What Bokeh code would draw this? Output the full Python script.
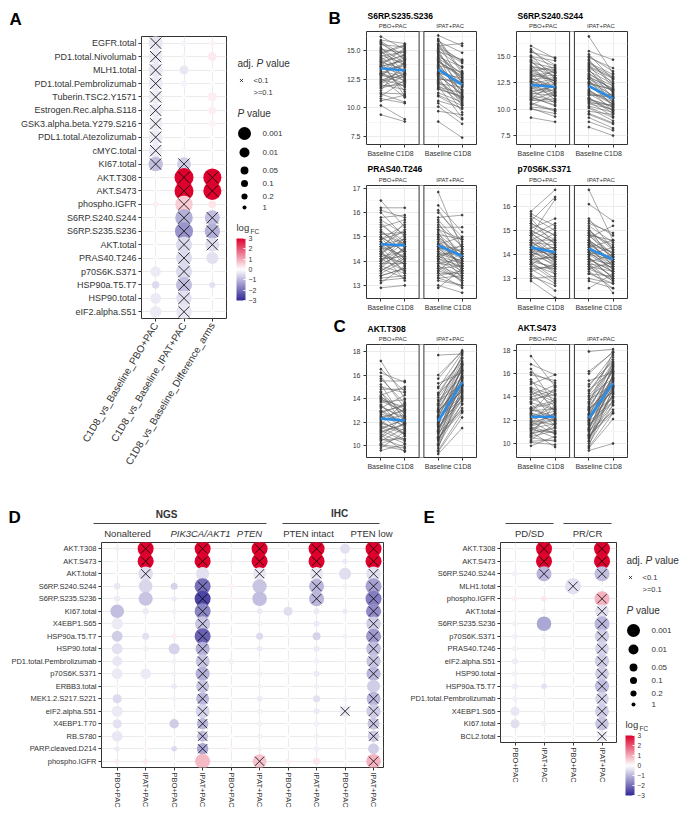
import numpy as np
from bokeh.plotting import figure
from bokeh.models import (ColumnDataSource, FixedTicker, Range1d, FactorRange,
                          LinearColorMapper, ColorBar, PrintfTickFormatter, Spacer)
from bokeh.layouts import row, column
from bokeh.transform import transform
from bokeh.embed import file_html
from bokeh.resources import INLINE
from bokeh.core.properties import value

FONT = "Liberation Sans"
TXT = "#333333"

# ---------------- Panel A data ----------------
A_rows = ["EGFR.total", "PD1.total.Nivolumab", "MLH1.total", "PD1.total.Pembrolizumab",
          "Tuberin.TSC2.Y1571", "Estrogen.Rec.alpha.S118", "GSK3.alpha.beta.Y279.S216",
          "PDL1.total.Atezolizumab", "cMYC.total", "KI67.total", "AKT.T308", "AKT.S473",
          "phospho.IGFR", "S6RP.S240.S244", "S6RP.S235.S236", "AKT.total", "PRAS40.T246",
          "p70S6K.S371", "HSP90a.T5.T7", "HSP90.total", "eIF2.alpha.S51"]
A_cols = ["C1D8_vs_Baseline_PBO+PAC", "C1D8_vs_Baseline_IPAT+PAC", "C1D8_vs_Baseline_Difference_arms"]
A_fc = [[-0.35, -0.15, 0.15], [-0.3, -0.1, 0.25], [-0.35, -0.35, 0.05], [-0.3, -0.15, 0.05],
        [-0.25, -0.05, 0.2], [-0.28, -0.05, 0.2], [-0.25, -0.05, 0.15], [-0.28, -0.03, 0.03],
        [-0.3, -0.12, 0.03], [-0.9, -0.7, 0.05], [-0.1, 3.2, 3.3], [-0.1, 3.3, 3.4],
        [0.2, 0.6, 0.3], [-0.08, -1.1, -0.9], [-0.1, -1.5, -1.1], [-0.05, -0.5, -0.45],
        [-0.05, -0.5, -0.4], [-0.3, -0.5, -0.05], [-0.5, -0.9, -0.4], [-0.3, -0.4, -0.03],
        [-0.3, -0.35, -0.03]]
A_p = [[4e-4, 0.3, 0.3], [5e-4, 0.5, 0.02], [4e-4, 0.02, 0.8], [5e-4, 0.25, 0.7],
       [6e-4, 0.8, 0.015], [6e-4, 0.8, 0.05], [6e-4, 0.8, 0.1], [5e-4, 0.9, 0.9],
       [5e-4, 0.3, 0.9], [3e-4, 5e-4, 0.8], [0.6, 1e-5, 2e-5], [0.6, 1e-5, 2e-5],
       [0.3, 3e-5, 0.05], [0.7, 3e-5, 2e-4], [0.6, 2e-5, 1.5e-4], [0.8, 1e-4, 5e-4],
       [0.8, 1e-4, 0.002], [0.008, 1e-4, 0.7], [0.08, 1e-4, 0.2], [0.006, 1.5e-4, 0.8],
       [0.003, 1.5e-4, 0.9]]
A_sig = [[1, 0, 0]] * 9 + [[1, 1, 0], [0, 1, 1], [0, 1, 1], [0, 1, 0], [0, 1, 1], [0, 1, 1],
                           [0, 1, 1], [0, 1, 0], [0, 1, 0], [0, 1, 0], [0, 1, 0], [0, 1, 0]]

# ---------------- Panel D data ----------------
D_rows = ["AKT.T308", "AKT.S473", "AKT.total", "S6RP.S240.S244", "S6RP.S235.S236", "KI67.total",
          "X4EBP1.S65", "HSP90a.T5.T7", "HSP90.total", "PD1.total.Pembrolizumab", "p70S6K.S371",
          "ERBB3.total", "MEK1.2.S217.S221", "eIF2.alpha.S51", "X4EBP1.T70", "RB.S780",
          "PARP.cleaved.D214", "phospho.IGFR"]
D_arms = ["PBO+PAC", "IPAT+PAC"] * 5
D_fc = [[-0.2, 3.5, -0.05, 3.5, -0.1, 3.5, 0.05, 3.5, -0.4, 3.5],
        [-0.1, 3.5, -0.05, 3.5, -0.2, 3.5, 0.0, 3.5, -0.3, 3.5],
        [-0.05, -0.45, -0.03, -0.4, -0.03, -0.35, -0.03, -0.35, -0.45, -0.4],
        [-0.35, -0.55, -0.6, -2.0, 0.15, -0.8, -0.05, -1.0, -0.2, -1.3],
        [-0.25, -0.8, -0.3, -2.6, 0.15, -0.9, -0.1, -1.0, -0.05, -1.8],
        [-0.9, -0.3, -0.2, -1.7, -0.1, -0.3, -0.45, -0.3, -0.3, -1.6],
        [-0.3, -0.05, -0.05, -0.8, -0.05, -0.2, -0.1, -0.3, -0.05, -0.7],
        [-0.7, -0.4, 0.2, -2.2, -0.05, -0.5, -0.1, -0.6, -0.2, -1.4],
        [-0.4, -0.2, -0.6, -1.1, 0.05, -0.3, -0.05, -0.3, -0.1, -0.9],
        [-0.35, -0.05, -0.2, -0.8, -0.2, -0.1, -0.1, -0.2, -0.1, -0.8],
        [-0.3, -0.3, -0.2, -1.1, -0.05, -0.2, -0.1, -0.3, -0.1, -1.0],
        [-0.1, -0.05, -0.3, -0.8, -0.05, -0.2, -0.05, -0.2, -0.1, -0.7],
        [-0.5, -0.05, -0.2, -1.0, -0.05, -0.3, -0.1, -0.4, -0.2, -1.0],
        [-0.3, -0.1, -0.05, -0.6, -0.1, -0.2, -0.05, -0.3, -0.3, -0.7],
        [-0.4, -0.05, -0.7, -1.0, -0.05, -0.2, -0.05, -0.2, -0.1, -0.8],
        [-0.35, -0.05, -0.05, -0.9, -0.05, -0.2, -0.05, -0.2, -0.1, -0.7],
        [-0.3, 0.1, -0.5, -1.2, 0.1, -0.2, 0.05, -0.2, -0.1, -0.7],
        [0.25, 0.25, 0.05, 0.8, 0.1, 0.7, 0.2, 0.3, 0.1, 0.9]]
D_p = [[0.5, 1e-4, 0.9, 1e-4, 0.7, 1e-4, 0.8, 1e-4, 0.01, 1e-4],
       [0.7, 1e-4, 0.9, 1e-4, 0.5, 1e-4, 0.9, 1e-4, 0.4, 1e-4],
       [0.8, 3e-4, 0.9, 8e-4, 0.9, 1e-3, 0.9, 8e-4, 0.002, 3e-4],
       [0.15, 6e-4, 0.1, 1e-4, 0.3, 4e-4, 0.7, 2e-4, 0.5, 1e-4],
       [0.2, 4e-4, 0.4, 1e-4, 0.5, 3e-4, 0.6, 2e-4, 0.8, 1e-4],
       [6e-4, 0.2, 0.4, 1e-4, 0.6, 0.3, 0.02, 0.2, 0.4, 2e-4],
       [0.003, 0.8, 0.8, 2e-4, 0.8, 0.4, 0.5, 0.2, 0.8, 3e-4],
       [0.005, 0.1, 0.3, 1e-4, 0.8, 0.1, 0.6, 0.05, 0.4, 2e-4],
       [0.005, 0.3, 0.004, 4e-4, 0.8, 0.3, 0.8, 0.2, 0.6, 3e-4],
       [0.01, 0.8, 0.4, 5e-4, 0.4, 0.7, 0.6, 0.3, 0.6, 4e-4],
       [0.005, 0.006, 0.4, 4e-4, 0.8, 0.4, 0.5, 0.2, 0.6, 4e-4],
       [0.4, 0.8, 0.3, 0.001, 0.8, 0.5, 0.8, 0.4, 0.6, 0.001],
       [0.02, 0.8, 0.5, 0.001, 0.8, 0.3, 0.6, 0.1, 0.4, 5e-4],
       [0.004, 0.3, 0.8, 5e-4, 0.6, 0.3, 0.8, 0.2, 0.005, 4e-4],
       [0.02, 0.8, 0.015, 0.003, 0.8, 0.4, 0.8, 0.3, 0.6, 0.002],
       [0.006, 0.8, 0.9, 0.005, 0.8, 0.4, 0.8, 0.3, 0.6, 0.003],
       [0.4, 0.6, 0.3, 0.003, 0.5, 0.4, 0.7, 0.3, 0.6, 0.005],
       [0.4, 0.4, 0.9, 2e-4, 0.7, 5e-4, 0.3, 0.1, 0.6, 3e-4]]
D_sig = [[0, 1, 0, 1, 0, 1, 0, 1, 0, 1], [0, 1, 0, 1, 0, 1, 0, 1, 0, 1],
         [0, 1, 0, 0, 0, 1, 0, 1, 0, 1], [0, 0, 0, 1, 0, 0, 0, 1, 0, 1],
         [0, 0, 0, 1, 0, 0, 0, 1, 0, 1], [0, 0, 0, 1, 0, 0, 0, 0, 0, 1],
         [0, 0, 0, 1, 0, 0, 0, 0, 0, 1], [0, 0, 0, 1, 0, 0, 0, 0, 0, 1],
         [0, 0, 0, 1, 0, 0, 0, 0, 0, 1], [0, 0, 0, 1, 0, 0, 0, 0, 0, 1],
         [0, 0, 0, 1, 0, 0, 0, 0, 0, 1], [0, 0, 0, 1, 0, 0, 0, 0, 0, 0],
         [0, 0, 0, 1, 0, 0, 0, 0, 0, 1], [0, 0, 0, 1, 0, 0, 0, 0, 1, 1],
         [0, 0, 0, 1, 0, 0, 0, 0, 0, 1], [0, 0, 0, 1, 0, 0, 0, 0, 0, 1],
         [0, 0, 0, 1, 0, 0, 0, 0, 0, 0], [0, 0, 0, 0, 0, 1, 0, 0, 0, 1]]
D_groups = ["NGS", "IHC"]
D_subgroups = ["Nonaltered", "PIK3CA/AKT1", "PTEN", "PTEN intact", "PTEN low"]

# ---------------- Panel E data ----------------
E_rows = ["AKT.T308", "AKT.S473", "S6RP.S240.S244", "MLH1.total", "phospho.IGFR", "AKT.total",
          "S6RP.S235.S236", "p70S6K.S371", "PRAS40.T246", "eIF2.alpha.S51", "HSP90.total",
          "HSP90a.T5.T7", "PD1.total.Pembrolizumab", "X4EBP1.S65", "KI67.total", "BCL2.total"]
E_arms = ["PBO+PAC", "IPAT+PAC", "PBO+PAC", "IPAT+PAC"]
E_subgroups = ["PD/SD", "PR/CR"]
E_fc = [[-0.1, 3.5, 0.0, 3.5], [-0.1, 3.5, 0.0, 3.5], [-0.2, -1.0, -0.05, -0.9],
        [-0.05, -0.05, -0.4, -0.05], [0.2, 0.3, 0.05, 0.9], [-0.1, -0.2, 0.05, -0.4],
        [-0.2, -1.2, -0.05, -1.0], [-0.2, -0.2, -0.05, -0.7], [-0.2, -0.2, -0.05, -0.6],
        [-0.25, -0.1, -0.05, -0.7], [-0.2, -0.2, -0.05, -0.7], [-0.25, -0.4, -0.05, -0.9],
        [-0.2, -0.1, -0.05, -0.6], [-0.35, -0.1, -0.05, -0.7], [-0.45, -0.2, -0.05, -0.8],
        [-0.05, -0.05, -0.05, -0.3]]
E_p = [[0.6, 1e-4, 0.9, 1e-4], [0.6, 1e-4, 0.9, 1e-4], [0.3, 2e-4, 0.8, 2e-4],
       [0.8, 0.8, 1e-4, 0.8], [0.3, 0.3, 0.8, 2e-4], [0.5, 0.4, 0.8, 6e-4],
       [0.3, 3e-4, 0.8, 2e-4], [0.3, 0.4, 0.8, 4e-4], [0.3, 0.4, 0.8, 5e-4],
       [0.2, 0.5, 0.8, 4e-4], [0.3, 0.4, 0.8, 5e-4], [0.2, 0.3, 0.8, 4e-4],
       [0.3, 0.5, 0.8, 6e-4], [0.02, 0.5, 0.8, 5e-4], [0.02, 0.3, 0.8, 6e-4],
       [0.8, 0.8, 0.9, 0.01]]
E_sig = [[0, 1, 0, 1], [0, 1, 0, 1], [0, 1, 0, 1], [0, 0, 1, 0], [0, 0, 0, 1], [0, 0, 0, 1],
         [0, 0, 0, 1], [0, 0, 0, 1], [0, 0, 0, 1], [0, 0, 0, 1], [0, 0, 0, 1], [0, 0, 0, 1],
         [0, 0, 0, 1], [0, 0, 0, 1], [0, 0, 0, 1], [0, 0, 0, 1]]

LEG_P = [0.001, 0.01, 0.05, 0.1, 0.2, 1]
LEG_LABELS = ["0.001", "0.01", "0.05", "0.1", "0.2", "1"]
FC_TICKS = [-3, -2, -1, 0, 1, 2, 3]

# ---------------- Panels B / C data (per patient Baseline -> C1D8) ----------------
ARMS = ["PBO+PAC", "IPAT+PAC"]
TIMES = ["Baseline", "C1D8"]
S235_PBO_B = [16.2,15.9,15.7,15.5,15.3,15.1,15.0,14.8,14.6,14.5,14.3,14.2,14.0,13.9,13.8,13.6,13.5,13.4,13.3,13.1,13.0,12.9,12.7,12.6,12.4,12.2,12.0,11.8,11.5,11.2,11.0,10.6,10.2,9.4,14.9,13.7,12.8,15.6,14.1,11.9,15.8,15.2,14.7,14.4,13.6,13.2,12.9,12.5,12.3,11.7,11.3,10.8,14.0,13.0,12.1]
S235_PBO_C = [15.1,15.6,14.2,15.3,13.0,14.8,12.5,15.5,13.8,14.9,12.2,15.0,13.3,14.6,11.4,14.1,12.9,13.6,14.4,11.8,13.9,12.1,14.7,10.9,13.2,13.5,11.6,12.8,14.0,10.5,12.4,11.1,9.0,8.8,13.7,15.2,12.6,14.3,11.0,12.0,14.5,13.9,15.4,13.1,14.2,12.7,13.8,11.9,12.9,12.3,11.2,10.4,14.6,12.4,13.0]
S235_IPAT_B = [16.3,16.0,15.8,15.6,15.4,15.2,15.1,14.9,14.7,14.5,14.4,14.2,14.0,13.9,13.7,13.5,13.4,13.2,13.0,12.8,12.7,12.5,12.3,12.1,11.9,11.6,11.3,11.0,10.6,10.1,9.7,8.8,15.0,14.6,13.8,13.1,12.4,11.8,15.5,14.1,15.9,15.3,14.8,14.3,13.6,13.3,12.9,12.6,12.2,11.7,11.1,10.4,14.0,13.0,12.0]
S235_IPAT_C = [15.4,13.2,14.8,12.1,15.6,13.9,11.0,14.2,12.5,10.4,13.6,11.9,12.8,10.9,13.1,11.5,12.0,10.2,12.6,11.2,9.6,12.3,10.8,11.8,9.1,11.0,10.5,9.9,10.0,8.6,9.4,7.4,13.5,12.9,11.4,12.2,10.7,11.3,14.0,12.7,13.0,14.1,12.2,13.0,11.9,12.4,11.1,12.0,10.6,10.9,10.2,9.0,12.6,11.6,10.3]
S240_PBO_B = [16.0,15.7,15.4,15.1,14.9,14.6,14.4,14.2,14.0,13.8,13.6,13.4,13.2,13.0,12.8,12.6,12.5,12.3,12.1,11.9,11.8,11.6,11.4,11.2,11.0,10.8,10.6,10.4,10.2,10.0,9.2,13.9,12.9,11.5,10.9,14.7,13.3,12.2,11.1,10.1,15.5,15.0,14.5,14.1,13.7,13.1,12.7,12.4,12.0,11.7,11.3,10.9,10.5,13.5,12.6]
S240_PBO_C = [14.8,13.6,14.9,12.9,14.1,12.3,13.9,11.8,13.7,12.6,14.0,11.2,13.5,12.1,13.0,10.9,13.8,12.4,11.5,12.8,10.6,12.2,11.9,10.3,12.5,11.0,9.9,11.4,10.0,9.6,8.8,13.2,12.0,11.3,10.7,13.4,12.7,11.7,10.4,9.3,14.2,14.6,13.0,13.5,12.4,13.2,11.6,12.9,11.3,12.1,10.8,11.6,9.8,12.7,12.0]
S240_IPAT_B = [16.9,15.5,15.2,14.9,14.7,14.4,14.2,14.0,13.8,13.6,13.4,13.2,13.0,12.8,12.6,12.4,12.3,12.1,11.9,11.7,11.5,11.3,11.1,10.9,10.7,10.5,10.3,10.1,9.8,9.5,9.2,8.8,8.3,13.9,12.5,11.6,10.8,14.3,12.9,11.0,15.0,14.6,14.1,13.7,13.3,12.9,12.5,12.2,11.8,11.4,11.0,10.6,10.2,9.6,13.1]
S240_IPAT_C = [13.4,14.7,12.8,13.9,12.1,13.3,11.5,12.9,11.0,12.4,11.8,10.6,12.0,10.2,11.3,11.9,10.4,11.0,9.8,10.7,10.1,11.4,9.6,10.3,9.3,10.0,9.7,8.9,9.5,8.6,8.2,8.0,7.5,12.6,11.1,10.5,9.9,13.1,11.7,10.2,13.6,12.4,13.0,11.6,12.2,11.2,11.8,10.8,10.5,11.1,9.9,10.4,9.2,8.7,11.9]
PRAS_PBO_B = [16.5,16.2,16.0,15.8,15.6,15.4,15.3,15.1,15.0,14.9,14.8,14.7,14.6,14.5,14.4,14.3,14.2,14.1,14.0,13.9,13.8,13.7,13.6,13.5,13.4,13.3,13.1,12.9,15.2,14.6,14.3,13.9,15.5,14.0,14.8,13.7,14.4,15.0,14.5,14.1,16.1,15.7,15.2,14.9,14.6,14.4,14.2,14.0,13.8,13.6,13.4,13.2,15.0,14.7,14.3]
PRAS_PBO_C = [15.4,16.2,15.0,15.9,14.6,15.7,14.3,15.2,13.8,15.5,14.1,14.9,13.5,14.7,13.2,15.1,14.4,13.6,14.8,13.9,14.5,13.3,14.2,14.0,13.7,13.4,13.8,13.0,14.6,15.3,13.9,14.3,14.8,15.0,14.1,14.6,13.6,14.4,15.6,14.2,15.8,15.1,14.7,15.2,14.2,14.8,13.9,14.5,13.5,14.1,13.7,13.3,14.4,14.0,14.9]
PRAS_IPAT_B = [16.85,16.3,16.1,15.8,15.6,15.4,15.2,15.1,14.9,14.8,14.7,14.6,14.5,14.4,14.3,14.2,14.1,14.0,13.9,13.8,13.7,13.6,13.5,13.4,13.2,13.0,12.9,15.0,14.6,14.2,13.8,15.3,14.9,14.4,14.0,13.6,15.5,14.7,14.1,13.3,16.0,15.7,15.3,15.0,14.7,14.5,14.3,14.1,13.9,13.7,13.5,13.3,15.1,14.6,14.2]
PRAS_IPAT_C = [14.5,15.2,14.8,15.9,14.0,15.4,13.6,14.9,14.2,13.8,15.0,13.5,14.6,13.3,14.3,13.9,14.7,13.1,14.1,13.4,13.8,14.4,12.9,13.6,13.0,12.7,13.7,14.1,13.9,14.5,13.2,14.3,13.7,14.0,13.5,13.3,14.6,14.2,13.8,13.4,15.0,14.6,14.9,14.2,14.4,13.9,14.0,13.6,13.8,13.2,13.5,13.0,14.3,14.1,13.7]
P70_PBO_B = [15.8,15.6,15.4,15.2,15.1,14.9,14.8,14.7,14.6,14.5,14.4,14.3,14.2,14.1,14.0,13.9,13.8,13.7,13.6,13.5,13.4,13.3,13.2,13.0,12.9,15.0,14.6,14.2,13.9,15.3,14.4,14.0,13.6,14.8,14.5,14.1,13.8,15.5,14.3,13.7,15.7,15.3,15.0,14.8,14.6,14.4,14.2,14.0,13.8,13.6,13.4,13.1,14.9,14.5,14.1]
P70_PBO_C = [16.7,15.0,16.4,14.6,15.5,14.2,16.3,13.9,15.1,14.4,13.8,14.9,13.5,14.3,13.2,14.7,13.9,13.0,14.1,13.4,12.8,13.6,12.5,13.1,12.2,14.5,13.7,14.0,13.3,14.8,13.6,14.2,12.9,15.3,14.0,13.8,13.4,14.4,13.9,13.5,15.2,14.8,14.5,14.0,14.6,13.8,14.3,13.6,13.9,13.2,13.5,12.7,14.2,14.0,13.7]
P70_IPAT_B = [16.7,16.1,15.5,15.3,15.1,14.9,14.8,14.7,14.6,14.5,14.4,14.3,14.2,14.1,14.0,13.9,13.8,13.7,13.6,13.5,13.4,13.3,13.2,13.0,12.6,15.0,14.6,14.2,13.9,15.2,14.4,14.0,13.6,14.8,14.5,14.1,13.8,14.3,13.7,13.5,15.4,15.0,14.8,14.6,14.4,14.2,14.0,13.8,13.6,13.4,13.2,12.9,14.9,14.5,14.1]
P70_IPAT_C = [14.6,15.4,14.2,14.9,13.7,14.4,13.9,15.2,13.5,14.1,13.2,14.6,13.8,13.4,14.3,13.0,13.6,14.0,12.9,13.3,13.7,12.6,13.1,12.8,13.2,14.2,13.9,13.5,13.0,14.5,13.8,13.4,12.4,14.0,13.6,13.9,13.3,13.7,13.1,12.9,14.8,14.3,14.6,13.9,14.1,13.6,13.8,13.3,13.5,13.0,12.8,12.6,14.0,13.7,13.4]
T308_PBO_B = [17.2,16.2,15.9,15.5,15.2,14.8,14.6,14.3,14.0,13.7,13.5,13.2,13.0,12.8,12.6,12.4,12.2,12.0,11.8,11.6,11.4,11.2,11.0,10.8,10.6,10.4,10.2,10.0,9.8,9.6,13.8,12.9,12.1,11.5,10.9,14.1,12.5,11.3,10.7,13.3,16.5,15.7,15.0,14.5,13.9,13.4,12.9,12.3,11.9,11.1,10.5,10.1,14.2,12.7,11.7]
T308_PBO_C = [14.0,15.4,13.2,15.5,12.1,14.8,11.6,15.0,12.8,13.9,11.4,14.3,12.0,13.5,10.9,13.0,12.6,11.1,13.7,10.5,12.3,11.8,10.2,12.5,9.9,11.5,10.8,9.6,11.2,10.1,12.9,13.4,11.0,12.2,9.5,13.1,11.7,10.4,11.9,12.4,14.6,13.6,14.5,12.7,13.3,12.2,11.9,13.1,11.3,11.9,10.6,9.8,12.5,12.0,11.0]
T308_IPAT_B = [17.7,15.7,15.3,14.9,14.5,14.1,13.8,13.5,13.2,13.0,12.8,12.6,12.4,12.2,12.0,11.8,11.6,11.4,11.2,11.0,10.8,10.6,10.4,10.2,10.0,9.8,9.5,9.3,13.6,12.9,12.3,11.7,11.1,10.5,14.3,12.5,11.9,11.3,10.7,12.1,16.0,15.0,14.4,13.9,13.4,12.9,12.5,12.0,11.6,11.2,10.7,10.1,9.6,13.1,12.2]
T308_IPAT_C = [17.8,18.1,16.2,17.9,17.4,16.8,15.2,17.7,16.4,14.6,17.0,15.9,16.6,14.1,15.6,16.9,13.8,15.1,16.1,14.4,15.5,13.2,14.8,16.3,13.6,15.0,12.4,11.5,17.2,15.3,14.3,16.7,13.0,14.0,17.5,15.8,13.9,15.7,12.9,14.9,18.0,17.1,16.5,15.8,16.9,15.4,14.7,16.0,14.2,15.1,13.5,14.5,12.8,16.4,15.2]
S473_PBO_B = [17.5,16.8,16.4,15.9,15.5,15.1,14.8,14.5,14.2,13.9,13.6,13.4,13.1,12.9,12.7,12.5,12.3,12.1,11.9,11.7,11.5,11.3,11.1,10.9,10.7,10.5,10.3,10.1,9.8,13.8,12.6,11.8,11.0,14.4,12.2,10.6,13.0,11.4,12.8,11.6,16.1,15.3,14.7,14.0,13.5,13.0,12.6,12.0,11.6,11.2,10.8,10.2,14.6,12.4,11.3]
S473_PBO_C = [14.9,15.9,13.3,15.4,12.6,15.9,14.1,11.8,15.0,12.9,14.5,11.5,13.7,12.2,14.8,11.0,13.1,12.5,10.8,13.9,12.0,10.5,12.7,11.3,13.4,10.2,11.7,9.9,10.6,14.2,11.9,12.4,9.7,13.6,12.8,11.1,12.3,10.9,13.0,12.1,15.2,14.3,13.8,14.6,12.9,13.5,12.1,11.6,12.6,10.9,11.4,10.3,13.2,12.0,11.7]
S473_IPAT_B = [17.9,16.0,15.4,14.9,14.5,14.1,13.8,13.5,13.2,13.0,12.8,12.6,12.4,12.2,12.0,11.8,11.6,11.4,11.2,11.0,10.8,10.6,10.4,10.2,10.0,9.8,9.6,9.4,13.6,12.9,12.3,11.7,11.1,10.5,14.3,12.5,11.9,11.3,10.7,12.1,16.2,15.1,14.6,14.0,13.4,12.9,12.5,12.0,11.6,11.2,10.7,10.2,9.7,13.1,12.2]
S473_IPAT_C = [18.1,17.9,16.1,17.6,17.2,16.5,15.0,17.8,16.2,14.4,16.9,15.7,16.4,13.9,15.4,16.7,13.5,14.9,15.9,14.2,15.3,12.9,14.6,16.0,13.3,14.8,12.1,10.0,17.0,15.1,14.0,16.6,12.7,13.7,17.4,15.5,13.6,15.6,12.6,14.7,17.8,17.0,16.3,15.6,16.8,15.2,14.5,15.8,14.0,14.9,13.3,14.3,12.6,16.2,15.0]
# group mean trend (PBO baseline, PBO C1D8, IPAT baseline, IPAT C1D8)
S235_TREND = [13.45, 13.25, 13.35, 12.0]
S240_TREND = [12.3, 12.1, 12.2, 11.0]
PRAS_TREND = [14.7, 14.65, 14.65, 14.2]
P70_TREND = [14.3, 14.1, 14.25, 13.8]
T308_TREND = [12.3, 12.15, 12.1, 15.4]
S473_TREND = [12.3, 12.3, 12.2, 15.2]

# ---------------- helpers ----------------
def lerp(c1, c2, t):
    return tuple(int(round(a + (b - a) * t)) for a, b in zip(c1, c2))

LOW, MID, HIGH = (50, 40, 150), (255, 255, 255), (222, 0, 45)
PAL = []
for i in range(256):
    t = i / 255
    c = lerp(LOW, MID, t / 0.5) if t < 0.5 else lerp(MID, HIGH, (t - 0.5) / 0.5)
    PAL.append('#%02x%02x%02x' % c)
CMAP = LinearColorMapper(palette=PAL, low=-3, high=3)


def fig(**kw):
    return figure(output_backend="svg", toolbar_location=None, frame_align=False, **kw)


def psize(p, cap=19.0):
    return min(cap, 4 + 3 * (-np.log10(p)))


def dot_sources(rows, xs, fc, pv, sig):
    d = dict(x=[], y=[], fc=[], size=[])
    s = dict(x=[], y=[])
    for i, r in enumerate(rows):
        for j, xv in enumerate(xs):
            d['x'].append(xv); d['y'].append(r)
            d['fc'].append(fc[i][j]); d['size'].append(psize(pv[i][j]))
            if sig[i][j]:
                s['x'].append(xv); s['y'].append(r)
    return ColumnDataSource(d), ColumnDataSource(s)


def style(p, fs):
    p.outline_line_color = "#333333"
    p.outline_line_width = 1
    for ax in p.axis:
        ax.axis_line_color = None
        ax.major_tick_line_color = "#333333"
        ax.major_tick_out = 3
        ax.major_tick_in = 0
        ax.minor_tick_line_color = None
        ax.major_label_text_font = FONT
        ax.major_label_text_font_size = fs
        ax.major_label_text_color = TXT
        ax.major_label_standoff = 2
    p.grid.grid_line_color = "#EBEBEB"
    p.grid.grid_line_width = 1


def pix_fig(w, h):
    p = fig(width=w, height=h, x_range=Range1d(0, w), y_range=Range1d(h, 0), min_border=0)
    p.xaxis.visible = False
    p.yaxis.visible = False
    p.grid.visible = False
    p.outline_line_color = None
    return p


def txt(p, x, y, s, size, fstyle="normal", align="left", baseline="middle", color=TXT):
    p.text(x=[x], y=[y], text=[s], text_font=value(FONT), text_font_size=size,
           text_font_style=fstyle, text_align=align, text_baseline=baseline, text_color=color)


def letter(p, x, y, s):
    txt(p, x, y, s, "17px", "bold", "left", "top", "black")


def p_legend(p, x0, y0, bar_h, fig_h, cb_font):
    txt(p, x0, y0, "adj.", "10px")
    txt(p, x0 + 19, y0, "P", "10px", "italic")
    txt(p, x0 + 28.5, y0, "value", "10px")
    p.scatter([x0 + 4], [y0 + 17], marker="x", size=4.5, line_color="black", line_width=0.7)
    txt(p, x0 + 16, y0 + 17, "<0.1", "7.5px")
    txt(p, x0 + 16, y0 + 29, ">=0.1", "7.5px")
    txt(p, x0, y0 + 50, "P", "10px", "italic")
    txt(p, x0 + 9.5, y0 + 50, "value", "10px")
    offs = [70, 89, 107, 120, 133, 144]
    p.scatter([x0 + 7] * len(LEG_P), [y0 + o for o in offs], size=[psize(v) for v in LEG_P],
              fill_color="black", line_color=None)
    for lab, o in zip(LEG_LABELS, offs):
        txt(p, x0 + 25, y0 + o, lab, "8px")
    txt(p, x0 - 1, y0 + 164, "log", "9.5px")
    txt(p, x0 + 13, y0 + 168, "FC", "6.5px")
    top = y0 + 175
    cb = ColorBar(color_mapper=CMAP, location=(x0 - 1, fig_h - top - bar_h), width=9, height=bar_h,
                  padding=0, margin=0, ticker=FixedTicker(ticks=FC_TICKS),
                  major_label_text_font=FONT, major_label_text_font_size=cb_font,
                  major_label_text_color=TXT, major_tick_line_color="white",
                  major_tick_in=2, major_tick_out=0, minor_tick_line_color=None,
                  label_standoff=3, bar_line_color=None, border_line_color=None,
                  background_fill_color=None)
    p.add_layout(cb)


# ---------------- Panel A ----------------
hA = pix_fig(224, 27)
letter(hA, 1, 1, "A")
pA = fig(width=224, height=465, x_range=FactorRange(*A_cols), y_range=FactorRange(*A_rows[::-1]),
         min_border_left=133, min_border_right=6, min_border_top=1, min_border_bottom=182)
srcA, sigA = dot_sources(A_rows, A_cols, A_fc, A_p, A_sig)
pA.scatter('x', 'y', source=srcA, size='size', fill_color=transform('fc', CMAP), line_color=None)
pA.scatter('x', 'y', source=sigA, marker="x", size=16, line_color="black", line_width=0.8)
style(pA, "9px")
pA.xaxis.major_label_orientation = np.radians(59)
pA.xaxis.major_label_text_font_size = "10px"

pAleg = pix_fig(88, 492)
p_legend(pAleg, 5, 55, 62, 492, "7px")

# ---------------- Panels B / C ----------------
D_OFF = 2.4


def spag(name, bp, cp, bi, ci, trend, yr, yticks, minors, fmt, w, h, fl, fw, ft, fh, title_y,
         let=None, let_x=0, let_y=0):
    hh = ft - 1
    hdr = pix_fig(w, hh)
    u = fw / (2.2 + D_OFF)
    txt(hdr, fl + 1, title_y, name, "8.5px", "bold", color="black")
    for cx, s in ((1.5, ARMS[0]), (1.5 + D_OFF, ARMS[1])):
        txt(hdr, fl + (cx - 0.4) * u, hh - 1.5, s, "6px", "normal", "center", "bottom")
    if let:
        letter(hdr, let_x, let_y, let)
    p = fig(width=w, height=h - hh, x_range=Range1d(0.4, 2.6 + D_OFF), y_range=Range1d(*yr),
            min_border_left=fl, min_border_right=w - fl - fw, min_border_top=1,
            min_border_bottom=h - ft - fh)
    xs, ys, px, py = [], [], [], []
    for b, c, off in ((bp, cp, 0.0), (bi, ci, D_OFF)):
        for bv, cv in zip(b, c):
            xs.append([1 + off, 2 + off]); ys.append([bv, cv])
            px += [1 + off, 2 + off]; py += [bv, cv]
    p.multi_line(xs, ys, line_color="#5e5e5e", line_width=0.55)
    p.scatter(px, py, size=1.8, color="#3a3a3a")
    p.line([1, 2], trend[:2], line_color="#2b8ce6", line_width=2.6)
    p.line([1 + D_OFF, 2 + D_OFF], trend[2:], line_color="#2b8ce6", line_width=2.6)
    p.quad(left=[2.6], right=[2.6 + D_OFF - 2.2], bottom=[yr[0] - 50], top=[yr[1] + 50],
           fill_color="white", line_color="#333333", line_width=1)
    style(p, "7px")
    xt = [1, 2, 1 + D_OFF, 2 + D_OFF]
    p.xaxis.ticker = FixedTicker(ticks=xt)
    p.xaxis.major_label_overrides = {xt[0]: TIMES[0], xt[1]: TIMES[1], xt[2]: TIMES[0], xt[3]: TIMES[1]}
    p.yaxis.ticker = FixedTicker(ticks=yticks, minor_ticks=minors)
    p.yaxis.formatter = PrintfTickFormatter(format=fmt)
    p.ygrid.minor_grid_line_color = "#F5F5F5"
    return column(hdr, p)


s_ticks = [7.5, 10, 12.5, 15]
s_min = [8.75, 11.25, 13.75, 16.25]
b1l = spag("S6RP.S235.S236", S235_PBO_B, S235_PBO_C, S235_IPAT_B, S235_IPAT_C, S235_TREND,
           (6.8, 16.65), s_ticks, s_min, "%.1f", 170, 152, 46, 110, 23, 113, 7, "B", 8, 0)
b1r = spag("S6RP.S240.S244", S240_PBO_B, S240_PBO_C, S240_IPAT_B, S240_IPAT_C, S240_TREND,
           (6.65, 17.37), s_ticks, s_min, "%.1f", 199, 152, 26, 111, 23, 113, 7)
b2l = spag("PRAS40.T246", PRAS_PBO_B, PRAS_PBO_C, PRAS_IPAT_B, PRAS_IPAT_C, PRAS_TREND,
           (12.46, 17.12), [13, 14, 15, 16, 17], [13.5, 14.5, 15.5, 16.5], "%d",
           170, 154, 46, 110, 25, 113, 8)
b2r = spag("p70S6K.S371", P70_PBO_B, P70_PBO_C, P70_IPAT_B, P70_IPAT_C, P70_TREND,
           (12.17, 16.88), [13, 14, 15, 16], [12.5, 13.5, 14.5, 15.5, 16.5], "%d",
           199, 154, 26, 111, 25, 113, 8)
cl = spag("AKT.T308", T308_PBO_B, T308_PBO_C, T308_IPAT_B, T308_IPAT_C, T308_TREND,
          (9.0, 18.6), [10, 12, 14, 16, 18], [9, 11, 13, 15, 17], "%d",
          170, 158, 46, 110, 30, 113, 14, "C", 13, 2)
cr = spag("AKT.S473", S473_PBO_B, S473_PBO_C, S473_IPAT_B, S473_IPAT_C, S473_TREND,
          (8.8, 18.5), [10, 12, 14, 16, 18], [9, 11, 13, 15, 17], "%d",
          199, 158, 26, 111, 30, 113, 13)

# ---------------- Panel D ----------------
hD = pix_fig(392, 40)
letter(hD, 0, 7, "D")
txt(hD, 158, 14, D_groups[0], "10px", "bold", "center")
txt(hD, 331, 13, D_groups[1], "10px", "bold", "center")
hD.segment(x0=[85, 274], y0=[23, 23], x1=[258, 371], y1=[23, 23], line_color="#444444", line_width=1)
for s, cx, st in zip(D_subgroups, [119, 192, 241, 300, 363],
                     ["normal", "italic", "italic", "normal", "normal"]):
    txt(hD, cx, 33, s, "9.5px", st, "center")

pD = fig(width=392, height=270, x_range=Range1d(0.45, 10.35), y_range=FactorRange(*D_rows[::-1]),
         min_border_left=93, min_border_right=17, min_border_top=2, min_border_bottom=42)
dx = list(range(1, 11))
srcD, sigD = dot_sources(D_rows, dx, D_fc, D_p, D_sig)
pD.scatter('x', 'y', source=srcD, size='size', fill_color=transform('fc', CMAP), line_color=None)
pD.scatter('x', 'y', source=sigD, marker="x", size=13, line_color="black", line_width=0.8)
style(pD, "7.5px")
pD.xaxis.ticker = FixedTicker(ticks=dx)
pD.xaxis.major_label_overrides = {k: a for k, a in zip(dx, D_arms)}
pD.xaxis.major_label_orientation = "vertical"

# ---------------- Panel E ----------------
hE = pix_fig(220, 40)
letter(hE, 23, 7, "E")
hE.segment(x0=[105, 163], y0=[23, 23], x1=[153, 211], y1=[23, 23], line_color="#444444", line_width=1)
txt(hE, 129, 33, E_subgroups[0], "9.5px", "normal", "center")
txt(hE, 187, 33, E_subgroups[1], "9.5px", "normal", "center")

pE = fig(width=220, height=270, x_range=Range1d(0.5, 4.5), y_range=FactorRange(*E_rows[::-1]),
         min_border_left=100, min_border_right=4, min_border_top=2, min_border_bottom=68)
ex = [1, 2, 3, 4]
srcE, sigE = dot_sources(E_rows, ex, E_fc, E_p, E_sig)
pE.scatter('x', 'y', source=srcE, size='size', fill_color=transform('fc', CMAP), line_color=None)
pE.scatter('x', 'y', source=sigE, marker="x", size=13, line_color="black", line_width=0.8)
style(pE, "7.5px")
pE.xaxis.ticker = FixedTicker(ticks=ex)
pE.xaxis.major_label_overrides = {k: a for k, a in zip(ex, E_arms)}
pE.xaxis.major_label_orientation = "vertical"

pEleg = pix_fig(69, 310)
p_legend(pEleg, 6, 60, 60, 310, "6.5px")

# ---------------- layout ----------------
right_col = column(row(b1l, b1r), row(b2l, b2r), row(cl, cr))
top = row(column(hA, pA), pAleg, right_col)
bottom = row(column(hD, pD), column(hE, pE), pEleg)
layout = column(Spacer(height=8), row(Spacer(width=8), column(top, bottom)))

open("out.html", "w").write(file_html(layout, INLINE))
